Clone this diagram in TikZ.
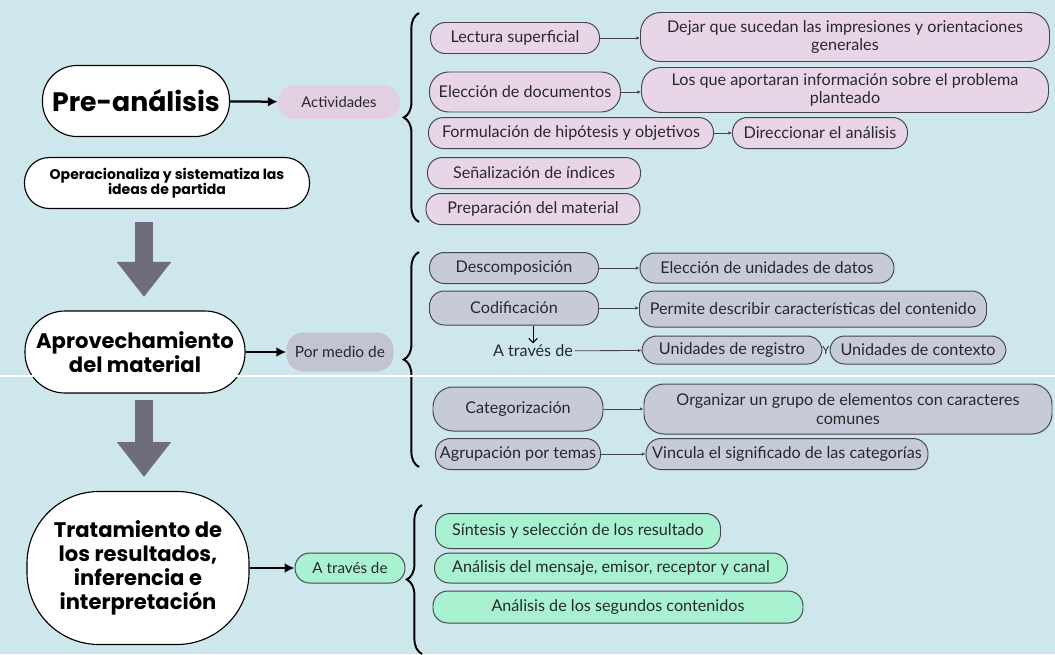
\documentclass[tikz,border=0pt]{standalone}
\usepackage{fontspec}
\setmainfont{Lato}
\newfontfamily\titulofont{Poppins}
\usetikzlibrary{arrows.meta,decorations.pathreplacing}

\newcommand{\pix}{0.025cm}

\definecolor{fondo}{RGB}{206,231,236}
\definecolor{rosa}{RGB}{232,214,232}
\definecolor{gris}{RGB}{199,202,216}
\definecolor{verde}{RGB}{168,242,210}
\definecolor{borde}{RGB}{70,70,74}
\definecolor{texto}{RGB}{40,40,44}
\definecolor{grisflecha}{RGB}{110,108,125}
\definecolor{rosaet}{RGB}{226,208,226}
\definecolor{grioset}{RGB}{194,196,211}

\tikzset{
  %standard arrow tip
    >={Stealth[length=4pt]},
  %define style for the small boxes
  pill/.style={
    rectangle,
    rounded corners=0.37cm,
    draw=borde, line width=0.7pt,
    inner sep=1pt,
    align=center,
    text=texto,
    font=\fontsize{11.5}{13}\selectfont},
  rosa/.style={pill, fill=rosa},
  gris/.style={pill, fill=gris},
  verde/.style={pill, fill=verde},
  tam/.style 2 args={minimum width=#1*\pix, minimum height=#2*\pix},
  %define style for the big white boxes
  titulo/.style={
    rectangle,
    draw=black, line width=0.8pt,
    fill=white,
    align=center,
    inner sep=1pt,
    font=\titulofont\bfseries},
  etiqueta/.style={
    rectangle,
    rounded corners=0.42cm,
    inner sep=1pt,
    text=texto,
    font=\fontsize{11}{13}\selectfont},
  %define style for arrows
  flecha/.style={
    -{Latex[length=7pt,width=7pt]},
    line width=1.6pt},
  enlace/.style={
    -{Latex[length=2.5pt,width=2.5pt]},
    draw=borde, line width=0.6pt},
  llave/.style={
    decorate, decoration={brace, amplitude=0.38cm},
    line width=1.4pt},
  bloque/.style={
    draw=grisflecha, line width=0.425cm,
    -{Triangle[length=0.875cm,width=1.3cm]}}
}

\begin{document}
\begin{tikzpicture}[x=\pix, y=-\pix]
\useasboundingbox (0,0) rectangle (1055,654);
\fill[fondo] (0,0) rectangle (1055,654);

%left column
\node[titulo, tam={187}{71}, rounded corners=0.86cm, font=\titulofont\bfseries\fontsize{19}{21}\selectfont] (preanalisis) at (136,101) {Pre-análisis};
\node[titulo, tam={285}{51}, rounded corners=0.62cm, font=\titulofont\bfseries\fontsize{10}{11}\selectfont] (operacional) at (167,183)
     {Operacionaliza y sistematiza las\\ideas de partida};
\node[titulo, tam={220}{82}, rounded corners=1cm, font=\titulofont\bfseries\fontsize{15}{13.5}\selectfont] (aprovech) at (135,352)
     {Aprovechamiento\\del material};
\node[titulo, tam={222}{153}, rounded corners=1.8cm, font=\titulofont\bfseries\fontsize{15}{17}\selectfont] (tratamiento) at (138,568)
     {Tratamiento de\\los resultados,\\inferencia e\\interpretación};

\node[etiqueta, tam={122}{34}, fill=rosaet, font=\fontsize{10.5}{12}\selectfont] (actividades) at (339,102) {Actividades};
\node[etiqueta, tam={107}{39}, fill=grioset] (pormedio) at (340,352) {Por medio de};
\node[verde, tam={110}{30}, font=\fontsize{10.8}{12}\selectfont] (atraves2) at (350,568) {A través de};

\draw[flecha] (preanalisis) -- (actividades);
\draw[flecha] (aprovech) -- (pormedio);
\draw[flecha] (tratamiento) -- (atraves2);

%big grey arrows
\coordinate (f1a) at (144,222);
\coordinate (f1b) at (144,297);
\coordinate (f2a) at (144,400);
\coordinate (f2b) at (144,477);
\draw[bloque] (f1a) -- (f1b);
\draw[bloque] (f2a) -- (f2b);

%braces
\draw[llave] (419,222) -- (419,13);
\draw[llave] (419,467) -- (419,252);
\draw[llave] (422,654) -- (422,505);

%pre-analisis activities
\node[rosa, tam={169}{31}] (lectura) at (515,38) {Lectura superficial};
\node[rosa, tam={409}{49}, rounded corners=0.5cm] (dejar) at (845,37)
     {Dejar que sucedan las impresiones y orientaciones\\generales};
\node[rosa, tam={191}{40}, rounded corners=0.48cm] (eleccion) at (525,92) {Elección de documentos};
\node[rosa, tam={407}{45}, rounded corners=0.5cm] (aportaran) at (845,90)
     {Los que aportaran información sobre el problema\\planteado};
\node[rosa, tam={285}{31}] (formulacion) at (571,133) {Formulación de hipótesis y objetivos};
\node[rosa, tam={175}{31}] (direccionar) at (820,133) {Direccionar el análisis};
\node[rosa, tam={213}{31}] (senalizacion) at (534,173) {Señalización de índices};
\node[rosa, tam={214}{31}] (preparacion) at (533,209) {Preparación del material};

\draw[enlace] (lectura) -- (dejar.west |- lectura);
\draw[enlace] (eleccion) -- (aportaran.west |- eleccion);
\draw[enlace] (formulacion) -- (direccionar);

%aprovechamiento items
\node[gris, tam={169}{31}] (descomp) at (514,268) {Descomposición};
\node[gris, tam={254}{30}] (unidatos) at (767,268) {Elección de unidades de datos};
\node[gris, tam={169}{34}] (codif) at (514,308) {Codificación};
\node[gris, tam={347}{36}] (permite) at (813,309) {Permite describir características del contenido};
\node[text=texto, inner sep=1pt, font=\fontsize{11.5}{13}\selectfont] (atraves1) at (533,351) {A través de};
\node[gris, tam={180}{28}] (registro) at (732,350) {Unidades de registro};
\node[text=texto, inner sep=0pt, font=\fontsize{8}{9}\selectfont] (ytxt) at (826,350) {Y};
\node[gris, tam={176}{28}] (contexto) at (918,350) {Unidades de contexto};
\node[gris, tam={170}{44}, rounded corners=0.5cm] (categ) at (518,409) {Categorización};
\node[gris, tam={408}{50}, rounded corners=0.5cm] (organizar) at (848,409)
     {Organizar un grupo de elementos con caracteres\\comunes};
\node[gris, tam={165}{31}] (agrupacion) at (518,454) {Agrupación por temas};
\node[gris, tam={282}{31}] (vincula) at (787,454) {Vincula el significado de las categorías};

\draw[enlace] (descomp) -- (unidatos);
\draw[enlace] (codif) -- (permite.west |- codif);
\draw[-{Straight Barb[length=3pt]}, line width=0.7pt] (codif.south -| atraves1.north) -- (atraves1.north);
\draw[enlace] (atraves1) -- (registro);
\draw[enlace] (categ) -- (organizar);
\draw[enlace] (agrupacion) -- (vincula);

%tratamiento items
\node[verde, tam={285}{35}] (sintesis) at (578,531) {Síntesis y selección de los resultado};
\node[verde, tam={353}{30}] (mensaje) at (611,568) {Análisis del mensaje, emisor, receptor y canal};
\node[verde, tam={370}{32}] (segundos) at (618,607) {Análisis de los segundos contenidos};

%white divider
\draw[white, line width=1.5pt] (0,376) -- (1055,376);
\end{tikzpicture}
\end{document}
